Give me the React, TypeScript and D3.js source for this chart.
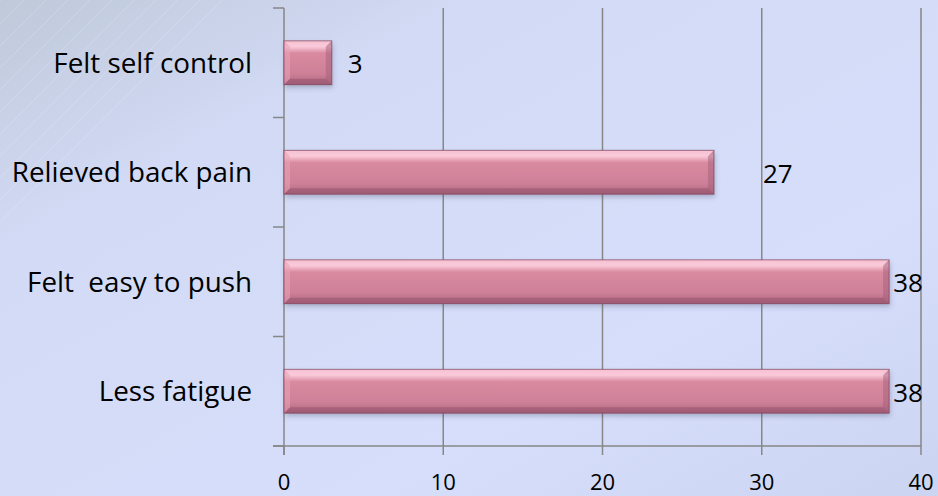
import { useEffect, useRef } from 'react'
import * as d3 from 'd3'

const categories = ['Felt self control', 'Relieved back pain', 'Felt  easy to push', 'Less fatigue']
const values = [3, 27, 38, 38]
const labelNudge = [16, 49, 4, 4]
const xTicks = [0, 10, 20, 30, 40]

const W = 938
const H = 496

export default function App() {
  const svgRef = useRef<SVGSVGElement>(null)

  useEffect(() => {
    document.body.style.margin = '0'
    if (!svgRef.current) return
    const svg = d3.select(svgRef.current)
    svg.selectAll('*').remove()

    const margin = { top: 8, right: 17, bottom: 50, left: 284 }
    const font = "'Open Sans', sans-serif"

    const x = d3.scaleLinear().domain([0, 40]).range([margin.left, W - margin.right])
    const y = d3.scaleBand<string>()
      .domain(categories)
      .range([margin.top, H - margin.bottom])
      .paddingInner(0.6)
      .paddingOuter(0.3)

    const defs = svg.append('defs')

    // background gradient
    const bg = defs.append('linearGradient').attr('id', 'bg')
      .attr('x1', '0%').attr('y1', '0%').attr('x2', '100%').attr('y2', '100%')
    bg.append('stop').attr('offset', '0%').attr('stop-color', '#bfc9d9')
    bg.append('stop').attr('offset', '25%').attr('stop-color', '#d2daf5')
    bg.append('stop').attr('offset', '70%').attr('stop-color', '#d6defb')
    bg.append('stop').attr('offset', '100%').attr('stop-color', '#cbd4f1')

    const barGrad = defs.append('linearGradient').attr('id', 'bar')
      .attr('x1', '0').attr('y1', '0').attr('x2', '0').attr('y2', '1')
    barGrad.append('stop').attr('offset', '0%').attr('stop-color', '#f0aec3')
    barGrad.append('stop').attr('offset', '14%').attr('stop-color', '#f8c6d6')
    barGrad.append('stop').attr('offset', '28%').attr('stop-color', '#d98aa0')
    barGrad.append('stop').attr('offset', '75%').attr('stop-color', '#cd8098')
    barGrad.append('stop').attr('offset', '100%').attr('stop-color', '#b06680')

    const shadow = defs.append('filter').attr('id', 'shadow')
      .attr('x', '-10%').attr('y', '-20%').attr('width', '130%').attr('height', '160%')
    shadow.append('feDropShadow')
      .attr('dx', 1).attr('dy', 3).attr('stdDeviation', 2.5)
      .attr('flood-color', '#505070').attr('flood-opacity', 0.35)

    svg.append('rect').attr('width', W).attr('height', H).attr('fill', 'url(#bg)')

    // faint diagonal streaks top-left
    const streaks = svg.append('g').attr('opacity', 0.18)
    d3.range(0, 12).forEach(i => {
      streaks.append('line')
        .attr('x1', -20 + i * 22).attr('y1', 0)
        .attr('x2', -20 + i * 22 - 260).attr('y2', 260)
        .attr('stroke', '#ffffff').attr('stroke-width', 1)
    })

    const gridColor = '#878787'
    const plotBottom = H - margin.bottom

    // vertical gridlines
    svg.append('g').selectAll('line')
      .data(xTicks.slice(1))
      .join('line')
      .attr('x1', d => x(d)).attr('x2', d => x(d))
      .attr('y1', margin.top).attr('y2', plotBottom + 9)
      .attr('stroke', gridColor).attr('stroke-width', 1.5)

    // x axis line + ticks
    svg.append('line')
      .attr('x1', margin.left - 11).attr('x2', x(40))
      .attr('y1', plotBottom).attr('y2', plotBottom)
      .attr('stroke', gridColor).attr('stroke-width', 1.5)

    svg.append('g').selectAll('line')
      .data(xTicks.slice(0, 1))
      .join('line')
      .attr('x1', d => x(d)).attr('x2', d => x(d))
      .attr('y1', plotBottom).attr('y2', plotBottom + 9)
      .attr('stroke', gridColor).attr('stroke-width', 1.5)

    // y axis line + ticks at band edges
    svg.append('line')
      .attr('x1', x(0)).attr('x2', x(0))
      .attr('y1', margin.top).attr('y2', plotBottom + 9)
      .attr('stroke', gridColor).attr('stroke-width', 1.5)

    const step = y.step()
    const edges = d3.range(0, categories.length + 1).map(i => margin.top + i * step)
    svg.append('g').selectAll('line')
      .data(edges)
      .join('line')
      .attr('x1', x(0) - 11).attr('x2', x(0))
      .attr('y1', d => d).attr('y2', d => d)
      .attr('stroke', gridColor).attr('stroke-width', 1.5)

    // tick labels
    svg.append('g').selectAll('text')
      .data(xTicks)
      .join('text')
      .attr('x', d => x(d))
      .attr('y', plotBottom + 44)
      .attr('text-anchor', 'middle')
      .style('font-family', font)
      .style('font-size', '22px')
      .style('fill', '#000')
      .text(d => d)

    // category labels
    svg.append('g').selectAll('text')
      .data(categories)
      .join('text')
      .attr('x', margin.left - 32)
      .attr('y', d => y(d)! + y.bandwidth() / 2)
      .attr('dy', '0.36em')
      .attr('text-anchor', 'end')
      .style('font-family', font)
      .style('font-size', '27.8px')
      .style('fill', '#000')
      .style('white-space', 'pre')
      .attr('xml:space', 'preserve')
      .text(d => d)

    // bars
    const bev = 6
    categories.forEach((c, i) => {
      const x0 = x(0)
      const x1 = x(values[i])
      const y0 = y(c)!
      const h = y.bandwidth()
      const y1 = y0 + h
      const g = svg.append('g')

      g.append('rect')
        .attr('x', x0).attr('y', y0)
        .attr('width', x1 - x0).attr('height', h)
        .attr('fill', 'url(#bar)')
        .attr('filter', 'url(#shadow)')

      // bevel faces
      g.append('polygon')
        .attr('points', `${x0},${y0} ${x1},${y0} ${x1 - bev},${y0 + bev} ${x0 + bev},${y0 + bev}`)
        .attr('fill', '#fbd0de').attr('opacity', 0.55)
      g.append('polygon')
        .attr('points', `${x0},${y0} ${x0 + bev},${y0 + bev} ${x0 + bev},${y1 - bev} ${x0},${y1}`)
        .attr('fill', '#e9a3b8').attr('opacity', 0.55)
      g.append('polygon')
        .attr('points', `${x1},${y0} ${x1},${y1} ${x1 - bev},${y1 - bev} ${x1 - bev},${y0 + bev}`)
        .attr('fill', '#a4607a').attr('opacity', 0.5)
      g.append('polygon')
        .attr('points', `${x0},${y1} ${x1},${y1} ${x1 - bev},${y1 - bev} ${x0 + bev},${y1 - bev}`)
        .attr('fill', '#8d4e66').attr('opacity', 0.45)
      g.append('rect')
        .attr('x', x0).attr('y', y0)
        .attr('width', x1 - x0).attr('height', h)
        .attr('fill', 'none')
        .attr('stroke', '#7d4158').attr('stroke-width', 1)
        .attr('stroke-opacity', 0.7)

      g.append('text')
        .attr('x', x1 + labelNudge[i])
        .attr('y', y0 + h / 2)
        .attr('dy', '0.4em')
        .style('font-family', font)
        .style('font-size', '26px')
        .style('fill', '#000')
        .text(values[i])
    })
  }, [])

  return (
    <div style={{ width: W, height: H }}>
      <svg ref={svgRef} width={W} height={H} style={{ display: 'block' }} />
    </div>
  )
}
